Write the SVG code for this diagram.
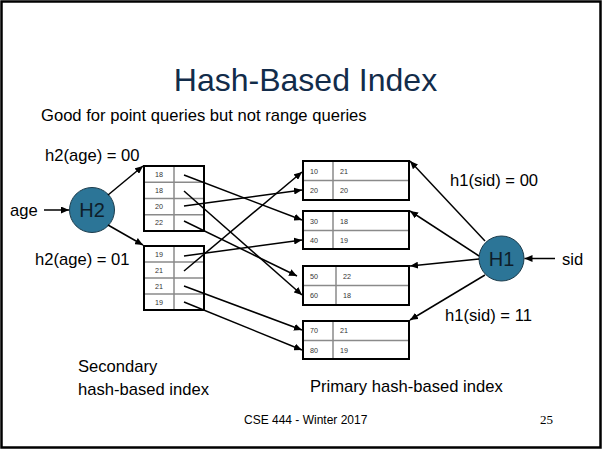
<svg xmlns="http://www.w3.org/2000/svg" width="603" height="450" viewBox="0 0 603 450">
  <style>
    .txt { font-family: "Liberation Sans", Arial, sans-serif; fill: #000; }
    .title { font-family: "Liberation Sans", Arial, sans-serif; font-size: 32px; fill: #122c4a; }
    .lbl { font-size: 16.6px; }
    .cell { font-family: "Liberation Sans", Arial, sans-serif; font-size: 7.2px; fill: #333; }
    .box { fill: #fff; stroke: #000; stroke-width: 2; }
    .div { stroke: #8a8a8a; stroke-width: 1.5; fill: none; }
    .hash { fill: #2c7597; stroke: #1c3c4c; stroke-width: 1; }
    .hlbl { font-family: "Liberation Sans", Arial, sans-serif; font-size: 20px; fill: #0e1e2a; }
    .edge { stroke: #000; stroke-width: 1.5; fill: none; marker-end: url(#arrow); }
  </style>
  <defs>
    <marker id="arrow" markerUnits="userSpaceOnUse" markerWidth="9" markerHeight="7" refX="8" refY="3.5" orient="auto">
      <path d="M0,0 L8,3.5 L0,7 Z" fill="#000"/>
    </marker>
  </defs>

  <!-- slide frame -->
  <rect x="1.5" y="1.5" width="599" height="446" fill="#fff" stroke="#000" stroke-width="2.5"/>

  <text class="title" x="305.5" y="91" text-anchor="middle">Hash-Based Index</text>
  <text class="txt" x="41" y="121" font-size="16.6">Good for point queries but not range queries</text>

  <!-- labels on the hash functions -->
  <text class="txt lbl" x="45" y="161">h2(age) = 00</text>
  <text class="txt lbl" x="35" y="265">h2(age) = 01</text>
  <text class="txt lbl" x="10" y="216">age</text>
  <text class="txt lbl" x="450" y="186">h1(sid) = 00</text>
  <text class="txt lbl" x="445" y="321">h1(sid) = 11</text>
  <text class="txt lbl" x="562" y="265">sid</text>

  <!-- hash function H2 -->
  <g id="h2">
    <circle class="hash" cx="92" cy="210" r="22.5"/>
    <text class="hlbl" x="92" y="217" text-anchor="middle">H2</text>
  </g>

  <!-- hash function H1 -->
  <g id="h1">
    <circle class="hash" cx="501.5" cy="258.5" r="22.5"/>
    <text class="hlbl" x="501.5" y="265.5" text-anchor="middle">H1</text>
  </g>

  <!-- secondary index bucket 00 -->
  <g id="sec-bucket-00">
    <rect class="box" x="144" y="166" width="60" height="65"/>
    <path class="div" d="M174,167 V230 M145,182.25 H203 M145,198.5 H203 M145,214.75 H203"/>
    <text class="cell" x="159" y="176.6" text-anchor="middle">18</text>
    <text class="cell" x="159" y="192.9" text-anchor="middle">18</text>
    <text class="cell" x="159" y="209.1" text-anchor="middle">20</text>
    <text class="cell" x="159" y="225.4" text-anchor="middle">22</text>
  </g>

  <!-- secondary index bucket 01 -->
  <g id="sec-bucket-01">
    <rect class="box" x="144" y="246" width="60" height="64"/>
    <path class="div" d="M174,247 V309 M145,262 H203 M145,278 H203 M145,294 H203"/>
    <text class="cell" x="159" y="256.6" text-anchor="middle">19</text>
    <text class="cell" x="159" y="272.6" text-anchor="middle">21</text>
    <text class="cell" x="159" y="288.6" text-anchor="middle">21</text>
    <text class="cell" x="159" y="304.6" text-anchor="middle">19</text>
  </g>

  <!-- primary index buckets -->
  <g id="prim-bucket-1">
    <rect class="box" x="303" y="161" width="106" height="39"/>
    <path class="div" d="M333,162 V199 M304,180.5 H408"/>
    <text class="cell" x="310" y="173.5">10</text>
    <text class="cell" x="340" y="173.5">21</text>
    <text class="cell" x="310" y="193">20</text>
    <text class="cell" x="340" y="193">20</text>
  </g>

  <g id="prim-bucket-2">
    <rect class="box" x="303" y="211" width="106" height="38"/>
    <path class="div" d="M333,212 V248 M304,230.5 H408"/>
    <text class="cell" x="310" y="223.5">30</text>
    <text class="cell" x="340" y="223.5">18</text>
    <text class="cell" x="310" y="242.5">40</text>
    <text class="cell" x="340" y="242.5">19</text>
  </g>

  <g id="prim-bucket-3">
    <rect class="box" x="303" y="266" width="106" height="39"/>
    <path class="div" d="M336,267 V304 M304,285.5 H408"/>
    <text class="cell" x="310" y="278.5">50</text>
    <text class="cell" x="343" y="278.5">22</text>
    <text class="cell" x="310" y="298">60</text>
    <text class="cell" x="343" y="298">18</text>
  </g>

  <g id="prim-bucket-4">
    <rect class="box" x="303" y="321" width="106" height="38"/>
    <path class="div" d="M333,322 V358 M304,340.5 H408"/>
    <text class="cell" x="310" y="333">70</text>
    <text class="cell" x="340" y="333">21</text>
    <text class="cell" x="310" y="352.5">80</text>
    <text class="cell" x="340" y="352.5">19</text>
  </g>

  <!-- connectors -->
  <g id="connectors">
    <line class="edge" x1="44" y1="210" x2="69" y2="210"/>
    <line class="edge" x1="108" y1="195" x2="143" y2="166"/>
    <line class="edge" x1="108" y1="225" x2="143" y2="245"/>

    <line class="edge" x1="555" y1="258.5" x2="524.5" y2="258.5"/>
    <line class="edge" x1="485" y1="241" x2="410" y2="161"/>
    <line class="edge" x1="479" y1="256" x2="410" y2="211"/>
    <line class="edge" x1="479" y1="259" x2="410" y2="266"/>
    <line class="edge" x1="485" y1="275" x2="410" y2="320"/>

    <line class="edge" x1="184" y1="175" x2="302" y2="220"/>
    <line class="edge" x1="184" y1="191" x2="302" y2="295"/>
    <line class="edge" x1="184" y1="206" x2="302" y2="190"/>
    <line class="edge" x1="184" y1="221" x2="297" y2="276"/>
    <line class="edge" x1="184" y1="256" x2="302" y2="240"/>
    <line class="edge" x1="184" y1="271" x2="302" y2="172"/>
    <line class="edge" x1="184" y1="286" x2="302" y2="330"/>
    <line class="edge" x1="184" y1="302" x2="302" y2="350"/>
  </g>

  <!-- captions and footer -->
  <text class="txt lbl" x="78" y="372">Secondary</text>
  <text class="txt lbl" x="78" y="395">hash-based index</text>
  <text class="txt lbl" x="310" y="392">Primary hash-based index</text>
  <text class="txt" x="244" y="424" font-size="12">CSE 444 - Winter 2017</text>
  <text x="540" y="424" font-size="13" font-family="'Liberation Serif', 'Times New Roman', serif">25</text>
</svg>
